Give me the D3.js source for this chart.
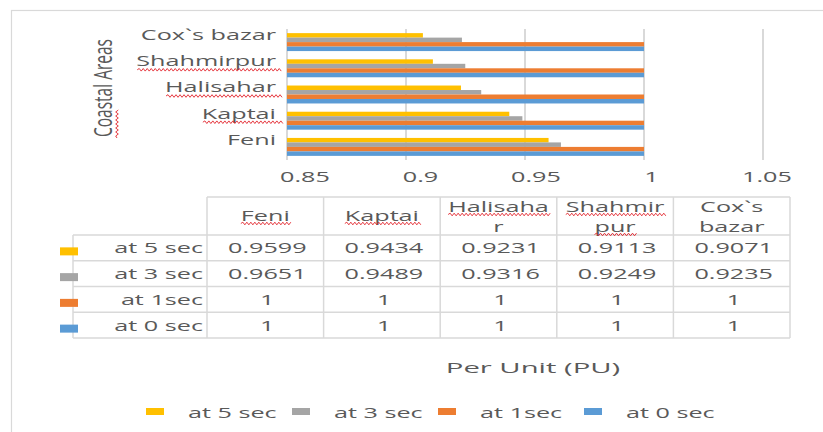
<!DOCTYPE html>
<html>
<head>
<meta charset="utf-8">
<title></title>
<script src="https://d3js.org/d3.v7.min.js"></script>
<style>
  body { margin: 0; background: #fff; }
  text { font-family: "Open Sans", sans-serif; fill: #595959; }
</style>
</head>
<body>
<script>

// data
var areas = ["Feni", "Kaptai", "Halisahar", "Shahmirpur", "Cox`s bazar"];
var seriesNames = ["at 5 sec", "at 3 sec", "at 1sec", "at 0 sec"];
var at5 = [0.9599, 0.9434, 0.9231, 0.9113, 0.9071];
var at3 = [0.9651, 0.9489, 0.9316, 0.9249, 0.9235];
var at1 = [1, 1, 1, 1, 1];
var at0 = [1, 1, 1, 1, 1];
var tickValues = [0.85, 0.9, 0.95, 1, 1.05];
var tickLabels = ["0.85", "0.9", "0.95", "1", "1.05"];
var headerLines = [["Feni"], ["Kaptai"], ["Halisaha", "r"], ["Shahmir", "pur"], ["Cox`s", "bazar"]];
var colors = ["#FFC000", "#A5A5A5", "#ED7D31", "#5B9BD5"];

var series = [at5, at3, at1, at0];

// spell-check marks seen in the original
var flaggedAxis = ["Shahmirpur", "Halisahar", "Kaptai"];
var flaggedHeader = ["Feni", "Kaptai", "Halisaha", "Shahmir", "pur"];

var width = 823, height = 432;
var K = 1.68; // the original picture is stretched sideways

var svg = d3.select("body").append("svg")
    .attr("width", width)
    .attr("height", height);

function stretch(sel, k) {
  k = k || K;
  sel.attr("transform", function() {
    var x = +this.getAttribute("x") || 0;
    return "translate(" + x + ",0) scale(" + k + ",1) translate(" + (-x) + ",0)";
  });
}

function squiggle(x0, x1, y) {
  var p = "M" + x0 + "," + y, up = true;
  for (var x = x0; x < x1; x += 2) {
    p += "L" + (x + 2) + "," + (y + (up ? -1.3 : 1.3));
    up = !up;
  }
  svg.append("path").attr("d", p)
      .attr("fill", "none").attr("stroke", "#e2232a").attr("stroke-width", 0.9);
}

// outer chart border
svg.append("rect")
    .attr("x", 11.5).attr("y", 10.5)
    .attr("width", 900).attr("height", 500)
    .attr("fill", "none").attr("stroke", "#d9d9d9").attr("stroke-width", 1.2);

// scales
var x = d3.scaleLinear().domain([0.85, 1.05]).range([287, 763]);
var xLabel = d3.scaleLinear().domain([0.85, 1.05]).range([305, 767]);

var y = d3.scaleBand()
    .domain(areas.slice().reverse())
    .range([29, 160]);

var inner = d3.scaleBand()
    .domain(d3.range(seriesNames.length))
    .range([0, y.bandwidth()])
    .paddingOuter(0.92);

// gridlines
svg.append("g").selectAll("line")
    .data(tickValues)
  .enter().append("line")
    .attr("x1", function(d) { return x(d); })
    .attr("x2", function(d) { return x(d); })
    .attr("y1", 29).attr("y2", 160)
    .attr("stroke", "#d9d9d9").attr("stroke-width", 2);

// bars
series.forEach(function(vals, si) {
  svg.append("g").selectAll("rect")
      .data(vals)
    .enter().append("rect")
      .attr("x", x(0.85))
      .attr("y", function(d, i) { return y(areas[i]) + inner(si); })
      .attr("width", function(d) { return x(d) - x(0.85); })
      .attr("height", inner.bandwidth())
      .attr("fill", colors[si]);
});

// x tick labels
svg.append("g").selectAll("text")
    .data(tickValues)
  .enter().append("text")
    .attr("x", function(d) { return xLabel(d); })
    .attr("y", 182)
    .attr("text-anchor", "middle")
    .style("font-size", "15px")
    .text(function(d, i) { return tickLabels[i]; })
    .call(stretch);

// category labels
var catText = svg.append("g").selectAll("text")
    .data(areas)
  .enter().append("text")
    .attr("x", 276)
    .attr("y", function(d) { return y(d) + y.bandwidth() / 2 - 2; })
    .attr("text-anchor", "end")
    .style("font-size", "15px")
    .text(function(d) { return d; })
    .call(stretch);

catText.each(function(d) {
  if (flaggedAxis.indexOf(d) < 0) return;
  var w = this.getComputedTextLength() * K;
  squiggle(277 - w, 281, y(d) + y.bandwidth() / 2 + 1.5);
});

// y axis title
var yTitle = svg.append("text")
    .attr("text-anchor", "middle")
    .attr("transform", "translate(112,88) scale(" + K + ",1) rotate(-90)")
    .style("font-size", "15.5px")
    .text("Coastal Areas");
svg.append("path")
    .attr("d", (function() {
      var p = "M117,138", left = true;
      for (var yy = 138; yy > 110; yy -= 2) { p += "L" + (left ? 115.7 : 118.3) + "," + (yy - 2); left = !left; }
      return p;
    })())
    .attr("fill", "none").attr("stroke", "#e2232a").attr("stroke-width", 0.9);

// data table
var col = d3.scaleBand().domain(areas).range([207, 790]);
var rowTop = 235, rowH = 25.75;
var tableBottom = rowTop + rowH * seriesNames.length;
var grid = "#d9d9d9";

var tbl = svg.append("g");
// header top line and vertical lines
tbl.append("line").attr("x1", 207).attr("x2", 790).attr("y1", 197).attr("y2", 197)
    .attr("stroke", grid).attr("stroke-width", 1.5);
tbl.selectAll("line.row")
    .data(d3.range(seriesNames.length + 1))
  .enter().append("line")
    .attr("x1", 73).attr("x2", 790)
    .attr("y1", function(d) { return rowTop + d * rowH; })
    .attr("y2", function(d) { return rowTop + d * rowH; })
    .attr("stroke", grid).attr("stroke-width", 1.5);
tbl.selectAll("line.col")
    .data(areas)
  .enter().append("line")
    .attr("x1", function(d) { return col(d); })
    .attr("x2", function(d) { return col(d); })
    .attr("y1", 197).attr("y2", tableBottom)
    .attr("stroke", grid).attr("stroke-width", 1.5);
tbl.append("line").attr("x1", 790).attr("x2", 790).attr("y1", 197).attr("y2", tableBottom)
    .attr("stroke", grid).attr("stroke-width", 1.5);
tbl.append("line").attr("x1", 73).attr("x2", 73).attr("y1", rowTop).attr("y2", tableBottom)
    .attr("stroke", grid).attr("stroke-width", 1.5);

// header text
areas.forEach(function(a, i) {
  var lines = headerLines[i];
  var cx = col(a) + col.bandwidth() / 2;
  var base = lines.length === 1 ? [221] : [212, 232];
  lines.forEach(function(s, j) {
    var t = tbl.append("text")
        .attr("x", cx).attr("y", base[j])
        .attr("text-anchor", "middle")
        .style("font-size", "15px")
        .text(s)
        .call(stretch);
    if (flaggedHeader.indexOf(s) >= 0) {
      var w = t.node().getComputedTextLength() * K;
      squiggle(cx - w / 2, cx + w / 2, base[j] + 2.5);
    }
  });
});

// row labels, keys and values
seriesNames.forEach(function(name, si) {
  var cy = rowTop + si * rowH + rowH / 2;
  tbl.append("rect")
      .attr("x", 60).attr("y", cy - 0.5)
      .attr("width", 18).attr("height", 8)
      .attr("fill", colors[si]);
  tbl.append("text")
      .attr("x", 203).attr("y", cy)
      .attr("dy", "0.36em")
      .attr("text-anchor", "end")
      .style("font-size", "15px")
      .text(name)
      .call(stretch);
  tbl.selectAll(null)
      .data(series[si])
    .enter().append("text")
      .attr("x", function(d, i) { return col(areas[i]) + col.bandwidth() / 2 + 2; })
      .attr("y", cy)
      .attr("dy", "0.36em")
      .attr("text-anchor", "middle")
      .style("font-size", "15px")
      .text(function(d) { return d; })
      .call(stretch);
});

// axis title under the table
svg.append("text")
    .attr("x", 533).attr("y", 373)
    .attr("text-anchor", "middle")
    .style("font-size", "15px")
    .text("Per Unit (PU)")
    .call(stretch, 1.95);

// legend
var legend = svg.append("g").selectAll("g")
    .data(seriesNames)
  .enter().append("g");
legend.append("rect")
    .attr("x", function(d, i) { return 146 + i * 146; })
    .attr("y", 408)
    .attr("width", 18).attr("height", 7)
    .attr("fill", function(d, i) { return colors[i]; });
legend.append("text")
    .attr("x", function(d, i) { return 188 + i * 146; })
    .attr("y", 418)
    .style("font-size", "15px")
    .text(function(d) { return d; })
    .call(stretch);

</script>
</body>
</html>
